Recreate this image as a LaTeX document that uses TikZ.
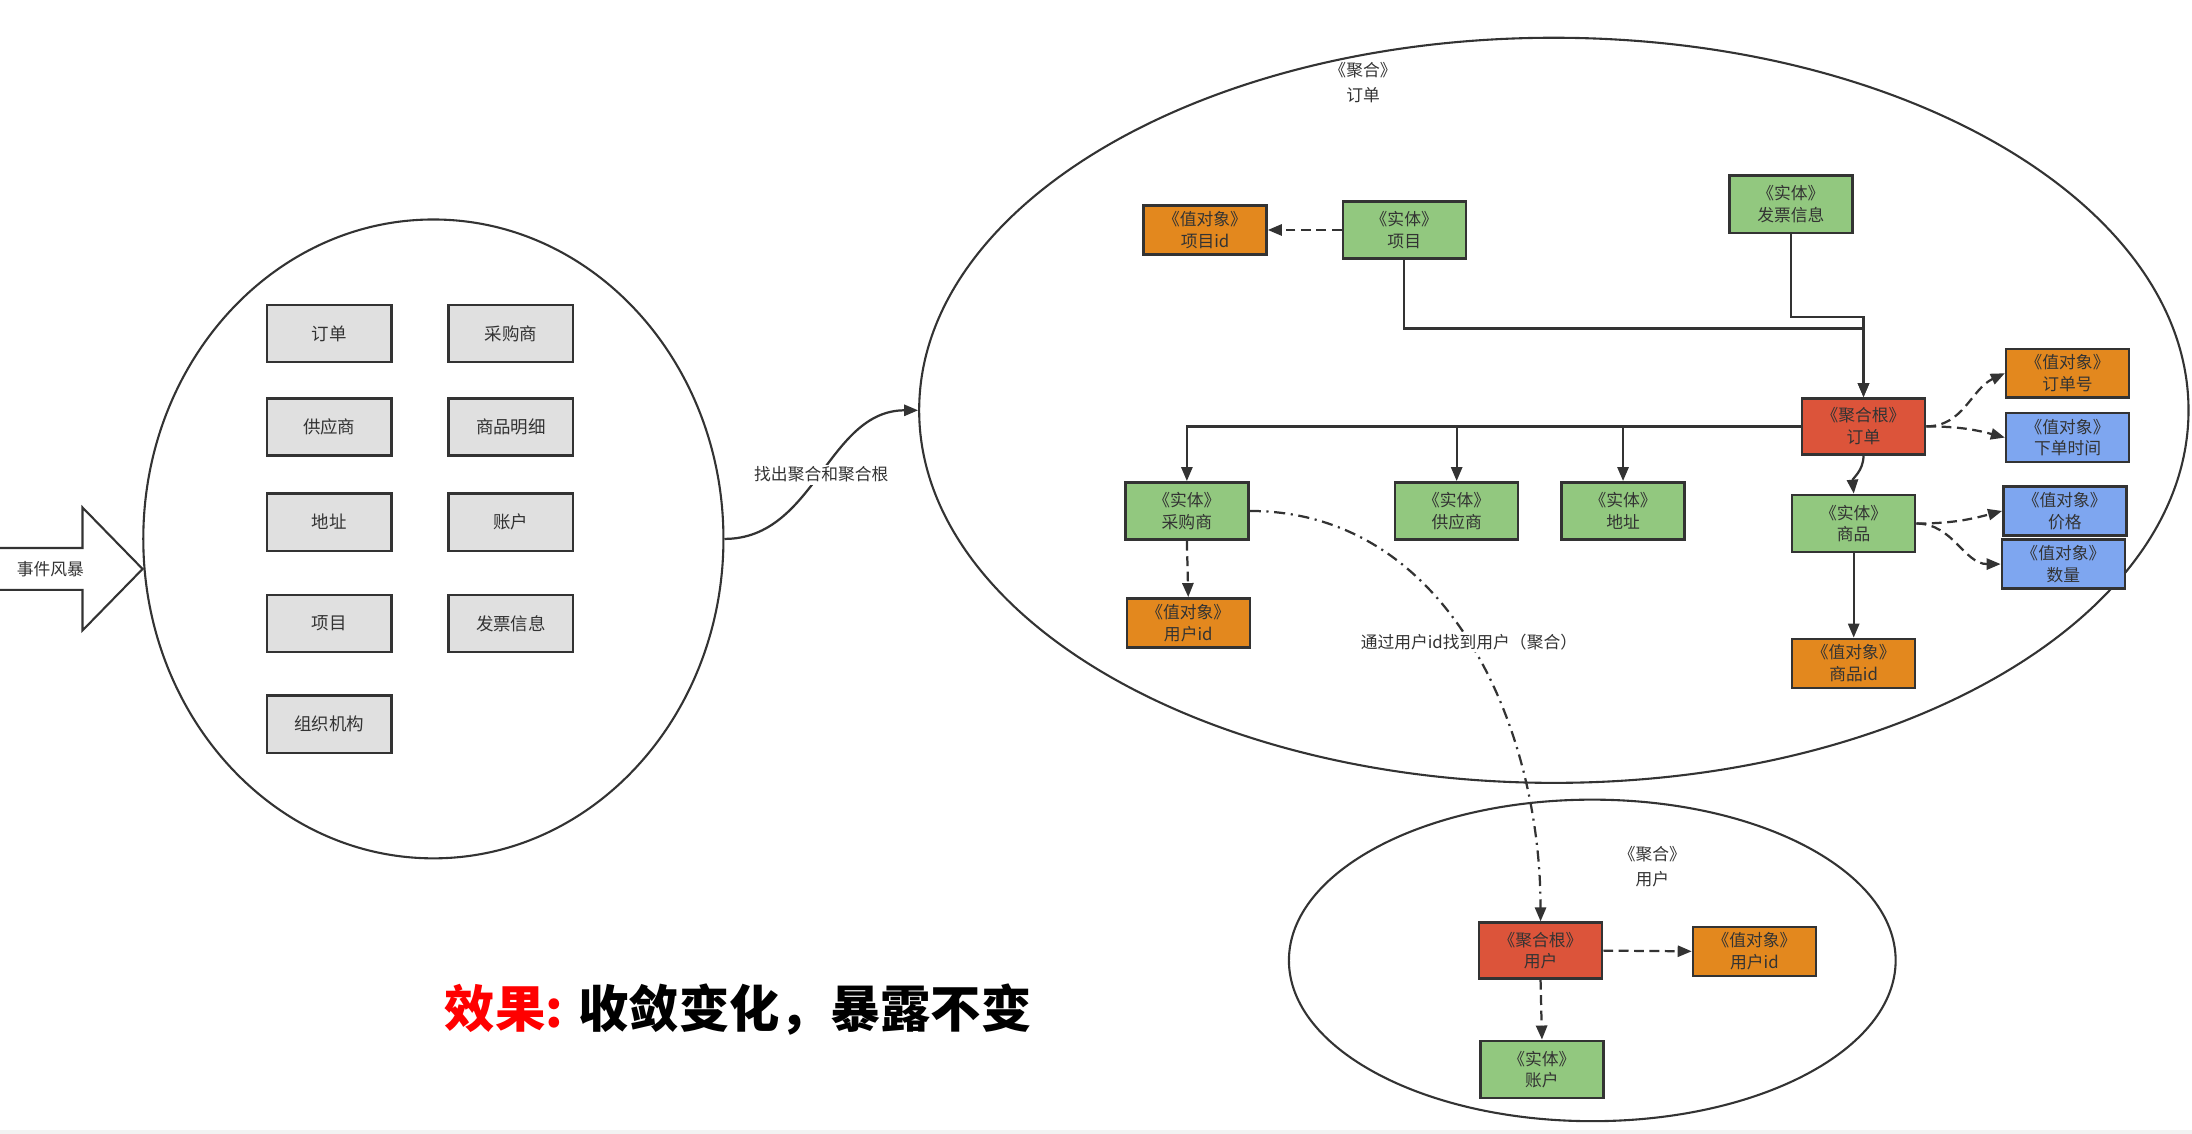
\documentclass[tikz,border=0pt]{standalone}
\usepackage{fontspec}
\setmainfont{Noto Sans CJK SC}
\usetikzlibrary{shapes.geometric,arrows.meta}
\definecolor{ln}{HTML}{333333}
\definecolor{txt}{HTML}{333333}
\definecolor{gr}{HTML}{92C87F}
\definecolor{orc}{HTML}{E3881E}
\definecolor{rdc}{HTML}{DC543A}
\definecolor{blc}{HTML}{7EA6F0}
\definecolor{gyc}{HTML}{E0E0E0}
\tikzset{
  box/.style={draw=ln, line width=1.8pt, minimum width=88pt, inner sep=0pt, align=center, text=txt, font=\fontsize{12}{15.5}\selectfont},
  ent/.style={box, fill=gr, minimum height=41pt},
  valo/.style={box, fill=orc, minimum height=35pt},
  valb/.style={box, fill=blc, minimum height=35pt},
  rootbox/.style={box, fill=rdc, minimum height=40pt},
  gbox/.style={draw=ln, line width=1.8pt, fill=gyc, minimum width=89pt, minimum height=41pt, inner sep=0pt, text=txt, font=\fontsize{12.5}{15}\selectfont},
  conn/.style={draw=ln, line width=1.6pt, -{Triangle[length=10pt,width=8pt]}},
  dconn/.style={conn, dash pattern=on 7pt off 4pt},
  ddconn/.style={conn, dash pattern=on 8pt off 4pt on 1.5pt off 4pt},
  agg/.style={ellipse, draw=ln, line width=1.5pt, inner sep=0pt},
  lbl/.style={text=txt, align=center, font=\fontsize{12}{18}\selectfont, inner sep=1.5pt},
}
\begin{document}
\begin{tikzpicture}[x=1pt,y=-1pt]
\useasboundingbox (0,0) rectangle (1568,811);
\fill[black!5] (0,808) rectangle (1568,811);

% event storming arrow
\draw[ln, line width=1.5pt, fill=white] (0,392) -- (59,392) -- (59,363) -- (102,407) -- (59,451) -- (59,422) -- (0,422);
\node[lbl] (evt) at (36,407) {事件风暴};

% left ellipse
\node[agg, minimum width=415pt, minimum height=457pt] (le) at (310,385.5) {};
\node[gbox] (g1) at (235.5,238.5) {订单};
\node[gbox] (g2) at (365.5,238.5) {采购商};
\node[gbox] (g3) at (235.5,305.5) {供应商};
\node[gbox] (g4) at (365.5,305.5) {商品明细};
\node[gbox] (g5) at (235.5,373.5) {地址};
\node[gbox] (g6) at (365.5,373.5) {账户};
\node[gbox] (g7) at (235.5,446) {项目};
\node[gbox] (g8) at (365.5,446) {发票信息};
\node[gbox] (g9) at (235.5,518) {组织机构};

% big ellipse
\node[agg, minimum width=908pt, minimum height=533pt] (be) at (1111.5,293.5) {};
\node[lbl] (bet) at (975,59) {《聚合》\\订单};

\draw[conn] (le.east) to[out=0,in=180] node[lbl, fill=white, pos=0.5] (l1) {找出聚合和聚合根} (be.west);

\node[valo] (xmid) at (862,164.5) {《值对象》\\项目id};
\node[ent] (xm) at (1004.5,164.5) {《实体》\\项目};
\node[ent] (fp) at (1281,146) {《实体》\\发票信息};
\node[rootbox] (ord) at (1333,305) {《聚合根》\\订单};
\node[valo] (ddh) at (1479,267) {《值对象》\\订单号};
\node[valb] (xdsj) at (1479,313) {《值对象》\\下单时间};
\node[ent] (cgs) at (849,365.5) {《实体》\\采购商};
\node[ent] (gys) at (1042,365.5) {《实体》\\供应商};
\node[ent] (dz) at (1161,365.5) {《实体》\\地址};
\node[ent] (sp) at (1326,374.5) {《实体》\\商品};
\node[valb] (jg) at (1477,365.5) {《值对象》\\价格};
\node[valb] (sl) at (1476,403.5) {《值对象》\\数量};
\node[valo] (yhid) at (850,445.5) {《值对象》\\用户id};
\node[valo] (spid) at (1326,474.5) {《值对象》\\商品id};

% small ellipse
\node[agg, minimum width=434pt, minimum height=230pt] (se) at (1139,687) {};
\node[lbl] (set) at (1182,620) {《聚合》\\用户};
\node[rootbox] (yh) at (1102,680) {《聚合根》\\用户};
\node[valo] (yhid2) at (1255,680.5) {《值对象》\\用户id};
\node[ent] (zh) at (1103,765) {《实体》\\账户};

% junctions
\coordinate (j1) at (1333,235);
\coordinate (j2) at (1333,227);

% connectors
\draw[dconn] (xm.west) -- (xmid.east);
\draw[conn] (xm.south) |- (j1) -- (ord.north);
\draw[conn] (fp.south) |- (j2) -- (ord.north);
\draw[conn] (ord.west) -| (cgs.north);
\draw[conn] (ord.west) -| (gys.north);
\draw[conn] (ord.west) -| (dz.north);
\draw[conn] (ord.south) to[out=-90,in=95] (sp.north);
\draw[dconn] (ord.east) to[out=0,in=205] (ddh.west);
\draw[dconn] (ord.east) to[out=0,in=165] (xdsj.west);
\draw[dconn] (sp.east) to[out=0,in=195] (jg.west);
\draw[dconn] (sp.east) to[out=0,in=180] (sl.west);
\draw[conn] (sp.south) -- (spid.north);
\draw[dconn] (cgs.south) -- (yhid.north);
\draw[ddconn] (cgs.east) to[out=0,in=90] node[lbl, fill=white, pos=0.5] (l2) {通过用户id找到用户（聚合）} (yh.north);
\draw[dconn] (yh.east) -- (yhid2.west);
\draw[dconn] (yh.south) -- (zh.north);

% effect text
\node[font=\fontsize{36}{40}\selectfont\bfseries, inner sep=0pt] (eff) at (528,722) {\textcolor{red}{效果:} 收敛变化，暴露不变};
\end{tikzpicture}
\end{document}
